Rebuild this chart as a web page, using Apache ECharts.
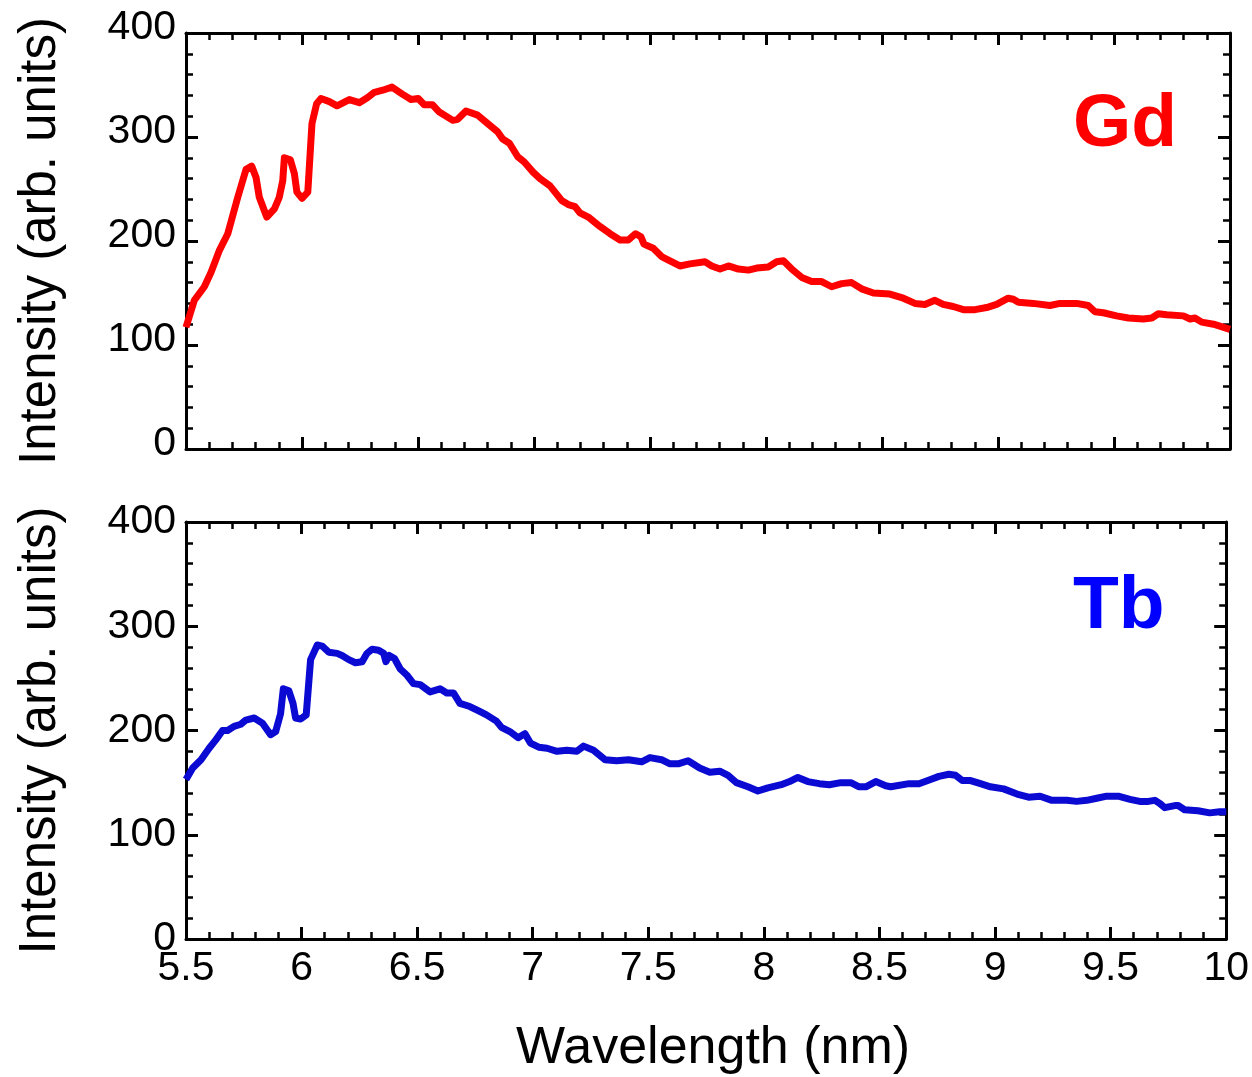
<!DOCTYPE html>
<html>
<head>
<meta charset="utf-8">
<script src="https://cdn.jsdelivr.net/npm/echarts@6.0.0/dist/echarts.min.js"></script>
<style>
html,body{margin:0;padding:0;background:#fff;}
#chart{width:1252px;height:1077px;}
</style>
</head>
<body>
<div id="chart"></div>
<script>
// ---- Data ----
const gdWavelength = [5.5,5.536,5.579,5.608,5.644,5.68,5.723,5.759,5.783,5.802,5.816,5.848,5.881,5.902,5.917,5.924,5.95,5.967,5.978,6.0,6.025,6.043,6.063,6.082,6.118,6.151,6.204,6.247,6.283,6.312,6.348,6.388,6.434,6.47,6.501,6.527,6.563,6.592,6.65,6.671,6.707,6.757,6.8,6.843,6.865,6.894,6.93,6.958,6.997,7.026,7.069,7.119,7.148,7.177,7.198,7.234,7.284,7.328,7.371,7.407,7.438,7.461,7.474,7.514,7.55,7.586,7.629,7.672,7.737,7.766,7.802,7.838,7.881,7.924,7.96,8.01,8.046,8.075,8.111,8.154,8.197,8.24,8.283,8.326,8.369,8.412,8.463,8.534,8.592,8.642,8.685,8.728,8.764,8.807,8.851,8.901,8.951,8.994,9.044,9.066,9.088,9.152,9.224,9.267,9.339,9.389,9.418,9.454,9.511,9.562,9.626,9.663,9.691,9.727,9.799,9.828,9.849,9.878,9.929,9.986,10.0];
const gdIntensity = [117,143,156,170,191,207,242,269,272,261,242,223,231,242,258,280,278,265,247,241,247,313,332,337,334,330,336,333,338,343,345,348,341,336,337,331,331,324,316,317,325,321,313,305,298,294,281,276,266,260,253,239,235,233,227,223,214,207,201,201,207,204,197,193,185,181,176,178,180,176,173,176,173,172,174,175,180,181,173,165,161,161,156,159,160,154,150,149,145,140,139,143,139,137,134,134,136,139,145,144,141,140,138,140,140,138,132,131,128,126,125,126,130,129,128,125,126,122,120,116,115];

const tbWavelength = [5.5,5.529,5.565,5.6,5.629,5.658,5.68,5.708,5.737,5.759,5.795,5.831,5.866,5.888,5.909,5.921,5.945,5.963,5.974,5.996,6.02,6.039,6.068,6.089,6.118,6.154,6.175,6.204,6.233,6.262,6.283,6.305,6.333,6.355,6.365,6.379,6.402,6.427,6.456,6.484,6.513,6.556,6.599,6.628,6.657,6.685,6.728,6.764,6.8,6.843,6.865,6.901,6.937,6.966,6.99,7.026,7.062,7.105,7.148,7.191,7.22,7.263,7.313,7.363,7.414,7.471,7.507,7.557,7.594,7.629,7.672,7.722,7.766,7.809,7.845,7.881,7.931,7.974,8.017,8.075,8.111,8.147,8.19,8.24,8.283,8.333,8.376,8.412,8.441,8.484,8.527,8.549,8.628,8.671,8.721,8.757,8.8,8.829,8.858,8.894,8.937,8.98,9.037,9.095,9.145,9.195,9.246,9.31,9.353,9.397,9.44,9.483,9.533,9.584,9.626,9.663,9.691,9.713,9.734,9.778,9.792,9.82,9.878,9.929,9.972,10.0];
const tbIntensity = [153,164,172,183,191,200,200,204,206,210,212,207,196,199,216,240,238,226,212,211,215,268,282,281,275,274,272,268,265,266,274,278,277,274,266,272,269,259,253,245,244,237,240,236,236,226,223,219,215,209,203,199,193,197,188,184,183,180,181,180,185,181,172,171,172,170,174,172,168,168,171,164,160,161,157,150,146,142,145,148,151,155,151,149,148,150,150,146,146,151,147,146,149,149,153,156,158,157,152,152,149,146,144,139,136,137,133,133,132,133,135,137,137,134,132,132,133,130,126,128,128,124,123,121,122,122];

const xTickLabels = ['5.5','6','6.5','7','7.5','8','8.5','9','9.5','10'];
const yTickLabels = ['0','100','200','300','400'];
const panelLabels = ['Gd','Tb'];
const xTitle = 'Wavelength (nm)';
const yTitle = 'Intensity (arb. units)';

// ---- Chart ----
const FONT = '"Liberation Sans", Arial, Helvetica, sans-serif';
const chart = echarts.init(document.getElementById('chart'), null, {renderer: 'canvas'});

function pairs(xs, ys) { return xs.map((x, i) => [x, ys[i]]); }

const grids = [
  {left: 186, top: 33, width: 1044, height: 416},
  {left: 186, top: 522, width: 1044, height: 417}
];

const axisLineStyle = {show: true, onZero: false, lineStyle: {color: '#000', width: 3}};
const tickStyle = {show: true, inside: true, length: 12, lineStyle: {color: '#000', width: 3}};
const minorTickStyle = {show: true, splitNumber: 5, length: 7, lineStyle: {color: '#000', width: 2.5}};

function xAxisDef(gridIndex, position, showLabels, showName) {
  return {
    type: 'value', gridIndex, position, min: 5.5, max: 10, interval: 0.5,
    axisLine: axisLineStyle, axisTick: tickStyle, minorTick: minorTickStyle,
    splitLine: {show: false}, minorSplitLine: {show: false},
    axisLabel: {
      show: showLabels, margin: 9, color: '#000', fontSize: 41, fontFamily: FONT,
      showMinLabel: true, showMaxLabel: true,
      formatter: (v) => xTickLabels[Math.round((v - 5.5) / 0.5)] ?? ''
    },
    name: showName ? xTitle : '', nameLocation: 'middle', nameGap: 84,
    nameTextStyle: {color: '#000', fontSize: 52, fontFamily: FONT, padding: [0, 0, 0, 14]}
  };
}
function yAxisDef(gridIndex, position, showLabels, showName, shiftUp) {
  const label = {
    show: showLabels, margin: 10, color: '#000', fontSize: 41, fontFamily: FONT,
    showMinLabel: true, showMaxLabel: true,
    formatter: (v) => yTickLabels[Math.round(v / 100)] ?? ''
  };
  if (shiftUp) { label.verticalAlign = 'bottom'; label.lineHeight = 10; }
  return {
    type: 'value', gridIndex, position, min: 0, max: 400, interval: 100,
    axisLine: axisLineStyle, axisTick: tickStyle, minorTick: minorTickStyle,
    splitLine: {show: false}, minorSplitLine: {show: false},
    axisLabel: label,
    name: showName ? yTitle : '', nameLocation: 'middle', nameGap: 120,
    nameTextStyle: {color: '#000', fontSize: 51, fontFamily: FONT}
  };
}

const option = {
  backgroundColor: '#fff',
  animation: false,
  grid: grids,
  xAxis: [
    xAxisDef(0, 'bottom', false, false),
    xAxisDef(0, 'top', false, false),
    xAxisDef(1, 'bottom', true, true),
    xAxisDef(1, 'top', false, false)
  ],
  yAxis: [
    yAxisDef(0, 'left', true, true, true),
    yAxisDef(0, 'right', false, false, false),
    yAxisDef(1, 'left', true, true, false),
    yAxisDef(1, 'right', false, false, false)
  ],
  series: [
    {
      name: 'Gd', type: 'line', xAxisIndex: 0, yAxisIndex: 0,
      data: pairs(gdWavelength, gdIntensity), showSymbol: false, smooth: false,
      lineStyle: {color: '#ff0000', width: 7, join: 'round'}, clip: true
    },
    {
      name: 'Tb', type: 'line', xAxisIndex: 2, yAxisIndex: 2,
      data: pairs(tbWavelength, tbIntensity), showSymbol: false, smooth: false,
      lineStyle: {color: '#0a0ad2', width: 7, join: 'round'}, clip: true
    }
  ],
  graphic: [
    {type: 'text', left: 1073, top: 88, style: {text: panelLabels[0], fill: '#ff0000', font: 'bold 75px ' + FONT}},
    {type: 'text', left: 1073, top: 570, style: {text: panelLabels[1], fill: '#0000ff', font: 'bold 75px ' + FONT}}
  ]
};
chart.setOption(option);
</script>
</body>
</html>
